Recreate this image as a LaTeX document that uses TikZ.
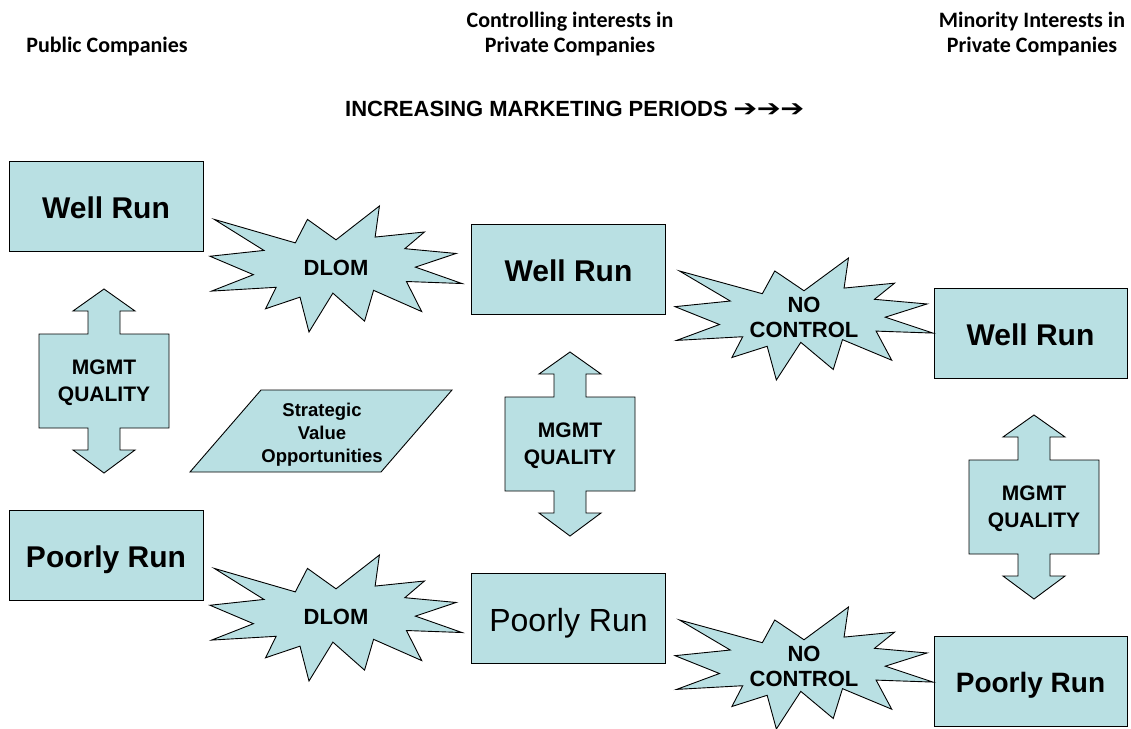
\documentclass[tikz,border=0pt]{standalone}
\usepackage{fontspec}
\setmainfont{Liberation Sans}
\newfontfamily\hdrfont{Carlito}
\newfontfamily\symfont{DejaVu Sans}
\definecolor{fillc}{RGB}{185,224,227}
\tikzset{
  shp/.style={draw=black, line width=0.9pt, fill=fillc, line join=miter},
  runbox/.style={shp, minimum width=194pt, minimum height=90pt, inner sep=0pt, text height=28pt, text depth=3pt, font=\fontsize{30}{34}\selectfont\bfseries},
  runboxr/.style={runbox, text height=30pt, text depth=3pt, font=\fontsize{32}{36}\selectfont},
  runboxs/.style={runbox, text height=26pt, text depth=3pt, font=\fontsize{28}{32}\selectfont\bfseries},
  shapetext/.style={inner sep=0pt, align=center, font=\fontsize{21}{27}\selectfont\bfseries},
  hdr/.style={inner sep=0pt, align=center, font=\hdrfont\fontsize{22}{25}\selectfont\bfseries}
}
\newcommand\burst[6]{%
  \begin{scope}[shift={(#2,#3)}, x=#4pt, y=-#5pt]
    \draw[shp] (0.5,0.2685) -- (0.6723,0) -- (0.6553,0.2465) -- (0.8509,0.2063) --
      (0.7732,0.3387) -- (0.9767,0.3767) -- (0.8151,0.4850) -- (1,0.6153) --
      (0.7795,0.5992) -- (0.8400,0.8377) -- (0.6491,0.6693) -- (0.6133,0.9137) --
      (0.4876,0.6914) -- (0.3928,1) -- (0.3572,0.7235) -- (0.2205,0.8156) --
      (0.2624,0.6452) -- (0.0063,0.6753) -- (0.1723,0.5451) -- (0,0.3988) --
      (0.2142,0.3526) -- (0.0171,0.1063) -- (0.3385,0.2926) -- (0.3867,0.1063) -- cycle;
    \node[shapetext, font=\fontsize{22}{25}\selectfont\bfseries] (#1) at (0.5,0.49) {#6};
  \end{scope}}
\newcommand\mgmt[3]{%
  \draw[shp] (#2,#3) -- (#2+31,#3+22) -- (#2+16,#3+22) -- (#2+16,#3+45) --
    (#2+65,#3+45) -- (#2+65,#3+139) -- (#2+16,#3+139) -- (#2+16,#3+161) --
    (#2+31,#3+161) -- (#2,#3+184) -- (#2-31,#3+161) -- (#2-16,#3+161) --
    (#2-16,#3+139) -- (#2-65,#3+139) -- (#2-65,#3+45) -- (#2-16,#3+45) --
    (#2-16,#3+22) -- (#2-31,#3+22) -- cycle;
  \node[shapetext] (#1) at (#2,#3+94) {MGMT\\QUALITY};}
\begin{document}
\begin{tikzpicture}[x=1pt,y=-1pt]
\useasboundingbox (0,0) rectangle (1131,728);
% headers
\node[hdr] (h1) at (107,47) {Public Companies};
\node[hdr] (h2) at (570,34.5) {Controlling interests in\\Private Companies};
\node[hdr] (h3) at (1032,34.5) {Minority Interests in\\Private Companies};
\node[inner sep=0pt, anchor=west, font=\fontsize{22}{25}\selectfont\bfseries] (inc) at (345,109)
  {INCREASING MARKETING PERIODS\hspace{0.25em}{\symfont\scalebox{1.3}[1.05]{➔}\hspace{-0.02em}\scalebox{1.3}[1.05]{➔}\hspace{-0.02em}\scalebox{1.3}[1.05]{➔}}};
% boxes
\node[runbox] (wr1) at (106,206) {Well Run};
\node[runbox] (pr1) at (106,555) {Poorly Run};
\node[runbox] (wr2) at (568.5,269) {Well Run};
\node[runboxr] (pr2) at (568.5,618) {Poorly Run};
\node[runbox, minimum width=193pt] (wr3) at (1030.5,333) {Well Run};
\node[runboxs, minimum width=193pt] (pr3) at (1030.5,681) {Poorly Run};
% bursts
\burst{dlom1}{210}{206}{252}{126}{DLOM}
\burst{dlom2}{210}{555}{252}{126}{DLOM}
\burst{nc1}{675}{258}{258}{122}{NO\\CONTROL}
\burst{nc2}{675}{607}{258}{122}{NO\\CONTROL}
% mgmt arrows
\mgmt{mq1}{104}{289}
\mgmt{mq2}{570}{352}
\mgmt{mq3}{1034}{415}
% parallelogram
\draw[shp] (190,472) -- (261,390) -- (452,390) -- (381,472) -- cycle;
\node[shapetext, font=\fontsize{18.5}{23}\selectfont\bfseries] (svo) at (322,435) {Strategic\\Value\\Opportunities};
\end{tikzpicture}
\end{document}
